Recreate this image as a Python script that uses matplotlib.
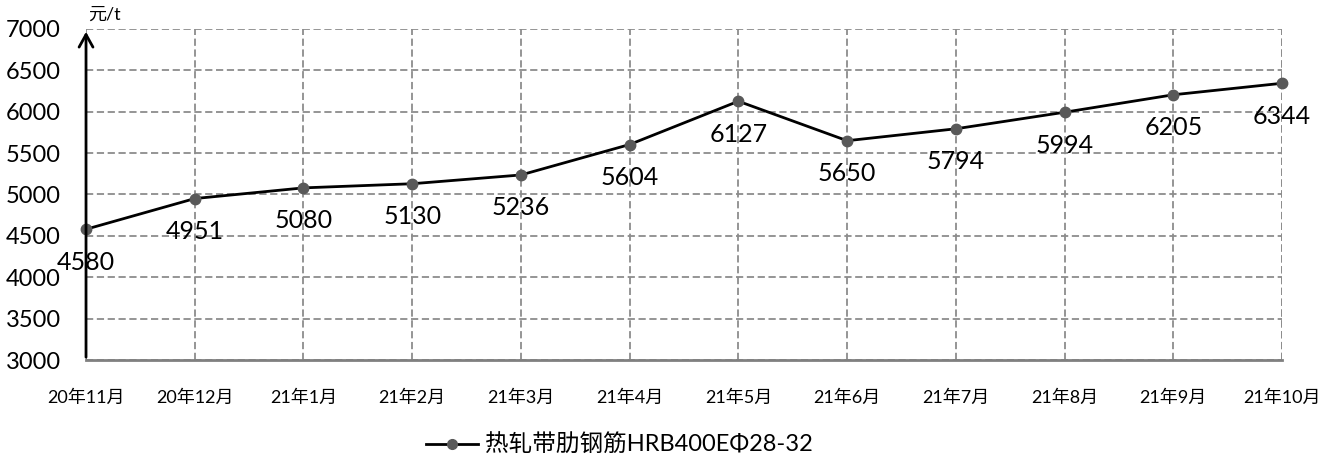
import matplotlib
matplotlib.use("Agg")
import matplotlib.pyplot as plt
from matplotlib.lines import Line2D

plt.rcParams['font.family'] = ['Lato', 'Noto Sans CJK SC', 'DejaVu Sans']

categories = ["20年11月", "20年12月", "21年1月", "21年2月", "21年3月", "21年4月",
              "21年5月", "21年6月", "21年7月", "21年8月", "21年9月", "21年10月"]
values = [4580, 4951, 5080, 5130, 5236, 5604, 6127, 5650, 5794, 5994, 6205, 6344]
yticks = [3000, 3500, 4000, 4500, 5000, 5500, 6000, 6500, 7000]
series_name = "热轧带肋钢筋HRB400EΦ28-32"
unit = "元/t"

fig = plt.figure(figsize=(13.42, 4.69), dpi=100)
ax = fig.add_axes([0.0641, 0.2324, 0.8912, 0.7058])

x = list(range(len(categories)))
ax.plot(x, values, color='black', lw=2, marker='o', markersize=7.5,
        markerfacecolor='#595959', markeredgecolor='#595959', zorder=4, clip_on=False)

for xi, v in zip(x, values):
    ax.annotate(str(v), (xi, v), xytext=(0, -33), textcoords='offset pixels',
                ha='center', va='center', fontsize=18, color='black', zorder=5)

ax.set_xlim(0, len(categories) - 1)
ax.set_ylim(3000, 7000)
ax.set_yticks(yticks)
ax.set_yticklabels([str(t) for t in yticks], fontsize=17)
ax.set_xticks(x)
ax.set_xticklabels(categories, fontsize=13)
ax.tick_params(axis='both', length=0)
ax.tick_params(axis='y', pad=18)
ax.tick_params(axis='x', pad=21)

ax.grid(True, color='#8c8c8c', linestyle=(0, (4, 2)), lw=1.3)
ax.set_axisbelow(True)
for s in ['top', 'right', 'left']:
    ax.spines[s].set_visible(False)
ax.spines['bottom'].set_color('#808080')
ax.spines['bottom'].set_linewidth(2)

ax.axvline(len(categories) - 1, color='#8c8c8c', linestyle=(0, (4, 2)), lw=1.3, zorder=1)

# left axis with arrow
ax.annotate('', xy=(0, 7000), xytext=(0, 3000), xycoords='data',
            arrowprops=dict(arrowstyle='->,head_length=0.9,head_width=0.5', color='black', lw=2),
            annotation_clip=False, zorder=6)

fig.text(88 / 1342, 1 - 15 / 469, unit, fontsize=13, ha='left', va='center')

handle = Line2D([0], [0], color='black', lw=2, marker='o', markersize=7,
                markerfacecolor='#595959', markeredgecolor='#595959')
fig.legend([handle], [series_name], loc='center', bbox_to_anchor=(619 / 1342, 1 - 445 / 469),
           frameon=False, fontsize=17, handlelength=2.2, handletextpad=0.3)

fig.savefig('out.png', dpi=100)
